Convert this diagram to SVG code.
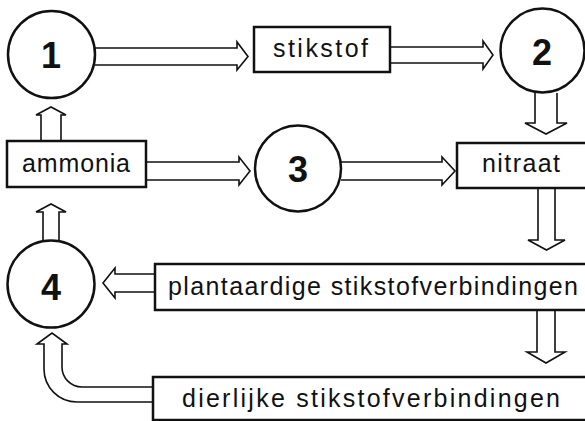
<svg xmlns="http://www.w3.org/2000/svg" width="585" height="421" viewBox="0 0 585 421">
<style>
.box{fill:#fff;stroke:#111;stroke-width:2.5}
.circ{fill:#fff;stroke:#111;stroke-width:2.5}
.arr{fill:#fff;stroke:#111;stroke-width:1.6;stroke-linejoin:miter}
.lbl{font-family:"Liberation Sans",Arial,sans-serif;font-size:25px;fill:#111}
.num{font-family:"Liberation Sans",Arial,sans-serif;font-size:36px;font-weight:bold;fill:#111;text-anchor:middle}
</style>
<rect width="585" height="421" fill="#fff"/>
<g id="connectors">
<path class="arr" d="M95,48 L237,48 L237,42 L248,56.5 L237,70 L237,65 L95,65"/>
<path class="arr" d="M390,47 L483,47 L483,41 L493,55 L483,69 L483,63 L390,63"/>
<path class="arr" d="M535,93 L535,123 L525,123 L546,134 L567,123 L557,123 L557,93"/>
<path class="arr" d="M146,162 L239,162 L239,157 L250,171 L239,185 L239,180 L146,180"/>
<path class="arr" d="M341,162 L442,162 L442,157 L455,171 L442,185 L442,180 L341,180"/>
<path class="arr" d="M41,141 L41,115 L36,115 L51,107 L66,115 L61,115 L61,141"/>
<path class="arr" d="M43,240 L43,212 L36,212 L51,204 L66,212 L59,212 L59,240"/>
<path class="arr" d="M538,188 L538,240 L528,240 L546.5,250 L565,240 L555,240 L555,188"/>
<path class="arr" d="M537,310 L537,352 L527,352 L546,363 L565,352 L555,352 L555,310"/>
<path class="arr" d="M155,274 L115,274 L115,268 L103,283 L115,298 L115,292 L155,292"/>
<path class="arr" d="M153,387 L82,387 A20,20 0 0 1 62,367 L62,344 L67,344 L52,333 L37,344 L44,344 L44,369 A33,33 0 0 0 77,402 L153,402"/>
</g>
<g id="n1"><circle class="circ" cx="51.5" cy="54.5" r="43.5"/><text class="num" x="51" y="68">1</text></g>
<g id="n2"><circle class="circ" cx="542.5" cy="50.5" r="42"/><text class="num" x="542" y="65">2</text></g>
<g id="n3"><circle class="circ" cx="298" cy="168.5" r="43"/><text class="num" x="298" y="182">3</text></g>
<g id="n4"><circle class="circ" cx="51" cy="284" r="43.5"/><text class="num" x="51" y="300">4</text></g>
<g id="stikstof"><rect class="box" x="254" y="27" width="136" height="45"/><text class="lbl" x="273" y="57" textLength="95" lengthAdjust="spacing">stikstof</text></g>
<g id="ammonia"><rect class="box" x="7" y="141" width="139" height="46"/><text class="lbl" x="22" y="172" textLength="108" lengthAdjust="spacing">ammonia</text></g>
<g id="nitraat"><rect class="box" x="457" y="143" width="140" height="45"/><text class="lbl" x="482" y="172" textLength="78" lengthAdjust="spacing">nitraat</text></g>
<g id="plantaardige"><rect class="box" x="155" y="264" width="440" height="46"/><text class="lbl" x="168" y="295" textLength="410" lengthAdjust="spacing">plantaardige stikstofverbindingen</text></g>
<g id="dierlijke"><rect class="box" x="153" y="377" width="440" height="43"/><text class="lbl" x="182" y="407" textLength="378" lengthAdjust="spacing">dierlijke stikstofverbindingen</text></g>
</svg>
